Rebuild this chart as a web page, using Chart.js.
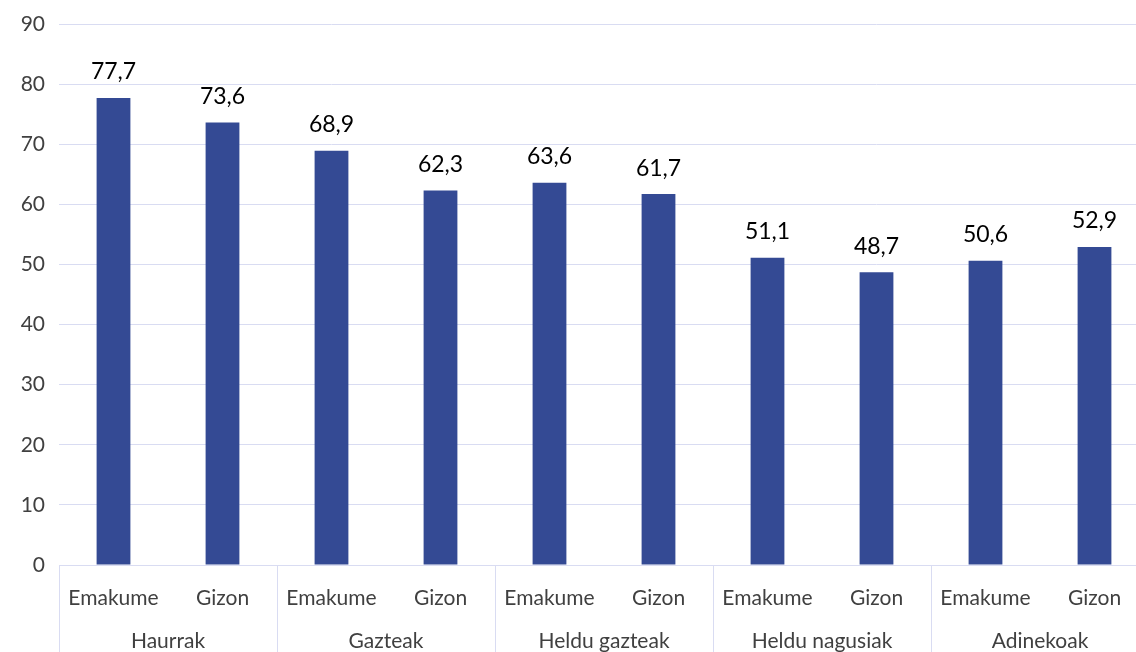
<!DOCTYPE html>
<html>
<head>
<meta charset="utf-8">
<script src="https://cdn.jsdelivr.net/npm/chart.js@4.4.0/dist/chart.umd.min.js"></script>
<style>
  html, body { margin: 0; padding: 0; background: #fff; overflow: hidden; }
  #wrap { width: 1150px; height: 652px; }
</style>
</head>
<body>
<div id="wrap"><canvas id="chart" width="1150" height="652"></canvas></div>
<script>
const groups = ['Haurrak', 'Gazteak', 'Heldu gazteak', 'Heldu nagusiak', 'Adinekoak'];
const sexes = ['Emakume', 'Gizon'];
const values = [77.7, 73.6, 68.9, 62.3, 63.6, 61.7, 51.1, 48.7, 50.6, 52.9];
const yTicks = [0, 10, 20, 30, 40, 50, 60, 70, 80, 90];

const labels = [];
groups.forEach(() => sexes.forEach(s => labels.push(s)));

const gridColor = '#D9DCF2';
const fontFamily = "Lato, 'Open Sans', sans-serif";

const groupPlugin = {
  id: 'groupLabels',
  afterDraw(chart) {
    const ctx = chart.ctx;
    const x = chart.scales.x;
    const area = chart.chartArea;
    const step = (area.right - area.left) / labels.length;
    ctx.save();
    ctx.strokeStyle = gridColor;
    ctx.lineWidth = 1;
    for (let g = 0; g <= groups.length; g++) {
      const px = Math.round(area.left + g * sexes.length * step) + 0.5;
      ctx.beginPath();
      ctx.moveTo(px, area.bottom);
      ctx.lineTo(px, chart.height);
      ctx.stroke();
    }
    ctx.fillStyle = '#404040';
    ctx.font = '21px ' + fontFamily;
    ctx.textAlign = 'center';
    ctx.textBaseline = 'middle';
    groups.forEach((g, i) => {
      const a = x.getPixelForValue(i * 2);
      const b = x.getPixelForValue(i * 2 + 1);
      ctx.fillText(g, (a + b) / 2, area.bottom + 76);
    });
    ctx.restore();
  }
};

const valuePlugin = {
  id: 'valueLabels',
  afterDatasetsDraw(chart) {
    const ctx = chart.ctx;
    const meta = chart.getDatasetMeta(0);
    ctx.save();
    ctx.fillStyle = '#000';
    ctx.font = '23px ' + fontFamily;
    ctx.textAlign = 'center';
    ctx.textBaseline = 'middle';
    meta.data.forEach((bar, i) => {
      ctx.fillText(values[i].toFixed(1).replace('.', ','), bar.x, bar.y - 26);
    });
    ctx.restore();
  }
};

new Chart(document.getElementById('chart'), {
  type: 'bar',
  data: {
    labels: labels,
    datasets: [{
      data: values,
      backgroundColor: '#344A94',
      categoryPercentage: 1,
      barPercentage: 0.31
    }]
  },
  options: {
    responsive: false,
    animation: false,
    layout: { padding: { top: 24, right: 1, left: 0, bottom: 0 } },
    plugins: { legend: { display: false }, tooltip: { enabled: false } },
    scales: {
      y: {
        min: 0,
        max: 90,
        afterBuildTicks(axis) { axis.ticks = yTicks.map(v => ({ value: v })); },
        afterFit(axis) { axis.width = 59; axis.paddingTop = 0; axis.paddingBottom = 0; },
        grid: { color: gridColor, drawTicks: false },
        border: { display: false },
        ticks: { color: '#404040', padding: 14, font: { family: fontFamily, size: 21 } }
      },
      x: {
        afterFit(axis) { axis.height = 87; },
        grid: { display: false },
        border: { display: true, color: gridColor },
        ticks: { color: '#404040', padding: 13, maxRotation: 0, autoSkip: false, font: { family: fontFamily, size: 21 } }
      }
    }
  },
  plugins: [groupPlugin, valuePlugin]
});
</script>
</body>
</html>
